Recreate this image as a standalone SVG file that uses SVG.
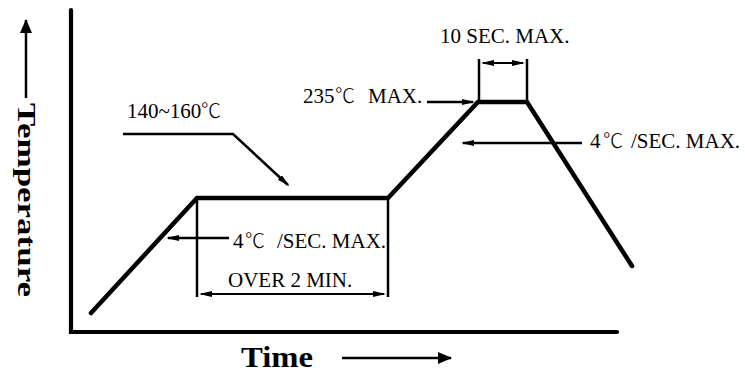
<svg xmlns="http://www.w3.org/2000/svg" width="745" height="372" viewBox="0 0 745 372">
<style>
.t{font-family:"Liberation Serif","Noto Sans CJK SC",serif;font-size:21px;fill:#000}
.c{font-family:"Noto Sans CJK SC","Noto Sans CJK JP",sans-serif;font-weight:300;font-size:20px}
.b{font-family:"Liberation Serif",serif;font-weight:bold;fill:#000}
.thick{stroke:#000;stroke-width:4.5;fill:none;stroke-linejoin:miter;stroke-linecap:round}
.axis{stroke:#000;stroke-width:4.2;fill:none;stroke-linecap:round}
.thin{stroke:#000;stroke-width:2.5;fill:none}
.dim{stroke:#000;stroke-width:2;fill:none}
</style>
<defs>
<marker id="ah" markerUnits="userSpaceOnUse" markerWidth="14" markerHeight="8" refX="11" refY="3" orient="auto-start-reverse"><path d="M0,0 L13,3 L0,6 z" fill="#000"/></marker>
<marker id="big" markerUnits="userSpaceOnUse" markerWidth="16" markerHeight="14" refX="13" refY="6" orient="auto"><path d="M0,0 L14,6 L0,12 z" fill="#000"/></marker>
</defs>
<g id="axes">
<path class="axis" d="M71,10 V332 H617"/>
</g>
<g id="profile">
<polyline class="thick" points="91,313 197,198 388,198 478,102 527,102 632,266"/>
</g>
<g id="connectors">
<line class="thin" x1="197" y1="198" x2="197" y2="297"/>
<line class="thin" x1="388" y1="198" x2="388" y2="297"/>
<line class="dim" x1="201" y1="294" x2="384" y2="294" marker-start="url(#ah)" marker-end="url(#ah)"/>
<line class="thin" x1="479" y1="59" x2="479" y2="102"/>
<line class="thin" x1="527" y1="59" x2="527" y2="102"/>
<line class="dim" x1="483" y1="63" x2="523" y2="63" marker-start="url(#ah)" marker-end="url(#ah)"/>
<line class="thin" x1="229" y1="238" x2="168" y2="238" marker-end="url(#ah)"/>
<line class="thin" x1="427" y1="102" x2="473" y2="102" marker-end="url(#ah)"/>
<line class="thin" x1="582" y1="143" x2="463" y2="143" marker-end="url(#ah)"/>
<polyline class="thin" points="123,134 233,134 288,185" marker-end="url(#ah)"/>
<line class="thin" x1="26" y1="98" x2="26" y2="20" marker-end="url(#big)"/>
<line class="thin" x1="342" y1="358" x2="451" y2="358" marker-end="url(#big)"/>
</g>
<g id="label-preheat"><text class="t" x="127" y="118">140~160<tspan class="c" x="201">℃</tspan></text></g>
<g id="label-peak"><text class="t" y="103"><tspan x="303">235</tspan><tspan class="c" x="335">℃</tspan><tspan x="368">MAX.</tspan></text></g>
<g id="label-10sec"><text class="t" x="440" y="43">10 SEC. MAX.</text></g>
<g id="label-cool"><text class="t" y="148"><tspan x="590">4</tspan><tspan class="c" x="603">℃</tspan><tspan x="631">/SEC. MAX.</tspan></text></g>
<g id="label-ramp"><text class="t" y="248"><tspan x="233">4</tspan><tspan class="c" x="245">℃</tspan><tspan x="277">/SEC. MAX.</tspan></text></g>
<g id="label-over"><text class="t" x="228" y="287">OVER 2 MIN.</text></g>
<g id="label-temperature"><text class="b" font-size="26" transform="translate(17.5,103) rotate(90)" textLength="194" lengthAdjust="spacingAndGlyphs">Temperature</text></g>
<g id="label-time"><text class="b" font-size="30" x="241" y="367" textLength="72" lengthAdjust="spacingAndGlyphs">Time</text></g>
</svg>
